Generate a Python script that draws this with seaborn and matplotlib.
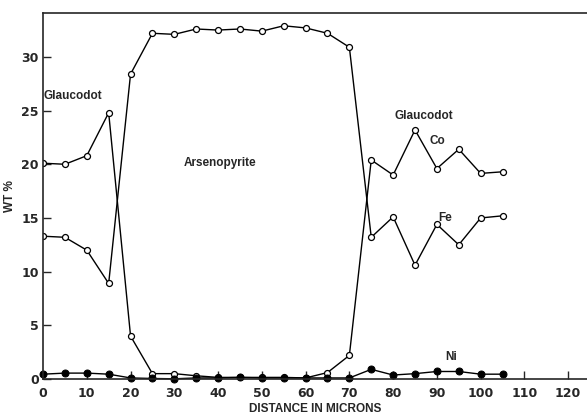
"""
Microprobe traverse: glaucodot / arsenopyrite / glaucodot.
"""

import matplotlib
matplotlib.use('Agg')
import matplotlib.pyplot as plt
import seaborn as sns
import pandas as pd

# distance along the traverse, microns
distance = [0, 5, 10, 15, 20, 25, 30, 35, 40, 45, 50, 55, 60, 65, 70,
            75, 80, 85, 90, 95, 100, 105]

# wt %
co_wt = [20.1, 20.0, 20.8, 24.8, 4.0, 0.5, 0.5, 0.3, 0.15, 0.15, 0.15, 0.15,
         0.1, 0.6, 2.2, 20.4, 19.0, 23.2, 19.6, 21.4, 19.15, 19.3]
fe_wt = [13.3, 13.2, 12.0, 8.9, 28.4, 32.2, 32.1, 32.6, 32.5, 32.6, 32.4,
         32.9, 32.7, 32.2, 30.9, 13.2, 15.1, 10.6, 14.4, 12.5, 15.0, 15.2]
ni_wt = [0.45, 0.55, 0.55, 0.45, 0.1, 0.05, 0.02, 0.1, 0.1, 0.15, 0.1, 0.1,
         0.1, 0.1, 0.1, 0.9, 0.37, 0.5, 0.7, 0.7, 0.45, 0.45]

x_ticks = [0, 10, 20, 30, 40, 50, 60, 70, 80, 90, 100, 110, 120]
y_ticks = [0, 5, 10, 15, 20, 25, 30]

# (text, x, y, ha) annotations in data units
labels = [
    ('Glaucodot', 0.2, 26.4, 'left'),
    ('Arsenopyrite', 40.5, 20.1, 'center'),
    ('Glaucodot', 87.0, 24.5, 'center'),
    ('Co', 90.0, 22.2, 'center'),
    ('Fe', 91.8, 15.0, 'center'),
    ('Ni', 93.2, 2.05, 'center'),
]

df = pd.DataFrame({'distance': distance, 'Co': co_wt, 'Fe': fe_wt, 'Ni': ni_wt})

sns.set_style('ticks')
plt.rcParams['font.family'] = ['Liberation Sans', 'DejaVu Sans']

fig = plt.figure(figsize=(5.87, 4.17), dpi=100)
ax = fig.add_axes([0.0733, 0.0911, 0.9267, 0.878])

open_style = dict(color='black', lw=1.0, marker='o', markersize=4.3,
                  markerfacecolor='white', markeredgecolor='black',
                  markeredgewidth=0.9)
sns.lineplot(data=df, x='distance', y='Co', ax=ax, **open_style)
sns.lineplot(data=df, x='distance', y='Fe', ax=ax, **open_style)
sns.lineplot(data=df, x='distance', y='Ni', ax=ax, color='black', lw=1.0,
             marker='o', markersize=5, markerfacecolor='black',
             markeredgecolor='black', clip_on=False)

for text, x, y, ha in labels:
    ax.text(x, y, text, ha=ha, va='center', fontsize=8.5, fontweight='bold')

ax.set_xlim(0, 124.3)
ax.set_ylim(0, 34.1)
ax.set_xticks(x_ticks)
ax.set_yticks(y_ticks)
ax.tick_params(direction='in', length=6, width=1)
ax.tick_params(axis='x', pad=6)
ax.tick_params(axis='y', pad=3)
for lab in ax.get_xticklabels() + ax.get_yticklabels():
    lab.set_fontfamily('DejaVu Sans')
    lab.set_fontweight('bold')
    lab.set_fontsize(9)

for side in ['left', 'bottom', 'top']:
    ax.spines[side].set_linewidth(1.2)
ax.spines['right'].set_visible(False)

ax.set_xlabel('DISTANCE IN MICRONS', fontsize=8.5, fontweight='bold', labelpad=2)
ax.set_ylabel('WT %', fontsize=8.5, fontweight='bold', labelpad=4)

fig.savefig('out.png', dpi=100)
